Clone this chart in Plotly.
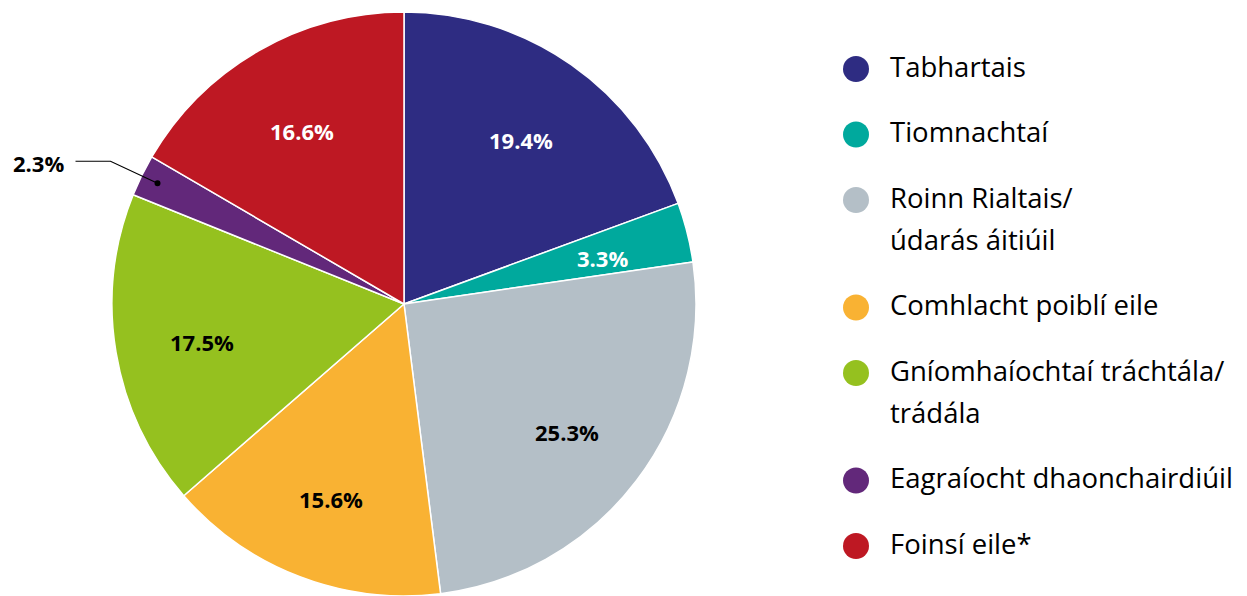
import math
import plotly.graph_objects as go

labels = ["Tabhartais", "Tiomnachtaí", "Roinn Rialtais/\núdarás áitiúil", "Comhlacht poiblí eile",
          "Gníomhaíochtaí tráchtála/\ntrádála", "Eagraíocht dhaonchairdiúil", "Foinsí eile*"]
values = [19.4, 3.3, 25.3, 15.6, 17.5, 2.3, 16.6]
colors = ["#2E2C82", "#00A99D", "#B4BFC7", "#F9B233", "#95C11F", "#62287A", "#BE1823"]
text_colors = ["white", "white", "black", "black", "black", "black", "white"]

W, H = 1247, 596
cx, cy, r = 404, 304, 292
FONT = "Open Sans"

fig = go.Figure()

fig.add_trace(go.Pie(
    labels=[l.replace("\n", " ") for l in labels],
    values=values,
    sort=False,
    direction="clockwise",
    rotation=0,
    marker=dict(colors=colors, line=dict(color="white", width=1.5)),
    textinfo="none",
    domain=dict(x=[(cx - r) / W, (cx + r) / W], y=[0, (H - (cy - r)) / H]),
    showlegend=False,
    hoverinfo="label+percent",
))

# middle angle of each slice (clockwise from 12 o'clock)
total = sum(values)
cum = 0
mids = []
for v in values:
    mids.append((cum + v / 2) / total * 2 * math.pi)
    cum += v

# percentage labels (annotations sit above the pie layer)
for i, v in enumerate(values):
    if i == 5:
        continue
    fig.add_annotation(
        x=cx + 0.7 * r * math.sin(mids[i]), y=cy - 0.7 * r * math.cos(mids[i]),
        xref="x", yref="y", text=f"{v:.1f}%", showarrow=False, yshift=-4,
        font=dict(family=FONT, size=22, color=text_colors[i], weight="bold"),
    )

# leader for the 2.3% slice
dx, dy = cx + 0.94 * r * math.sin(mids[5]), cy - 0.94 * r * math.cos(mids[5])
bx, by = dx - 47, dy - 22
ex = bx - 35
fig.add_shape(type="path", path=f"M {dx},{dy} L {bx},{by} L {ex},{by}",
              xref="x", yref="y", line=dict(color="black", width=1.2), layer="above")
fig.add_shape(type="circle", x0=dx - 3, x1=dx + 3, y0=dy - 3, y1=dy + 3,
              xref="x", yref="y", fillcolor="black", line=dict(width=0), layer="above")
fig.add_annotation(
    x=ex - 10, y=by, xref="x", yref="y", xanchor="right", text=f"{values[5]:.1f}%",
    showarrow=False, yshift=-2, font=dict(family=FONT, size=22, color="black", weight="bold"),
)

# legend on the right
leg_y = []
line_x, line_y, line_t = [], [], []
y = 69
for lab in labels:
    parts = lab.split("\n")
    leg_y.append(y)
    for k, p in enumerate(parts):
        line_x.append(890)
        line_y.append(y + 1 + 42 * k)
        line_t.append(p)
    y += 65.5 + 42 * (len(parts) - 1)

fig.add_trace(go.Scatter(
    x=[856] * len(labels), y=leg_y, mode="markers",
    marker=dict(color=colors, size=26), showlegend=False, hoverinfo="skip",
))
fig.add_trace(go.Scatter(
    x=line_x, y=line_y, mode="text", text=line_t, textposition="middle right",
    textfont=dict(family=FONT, size=27.5, color="black"),
    showlegend=False, hoverinfo="skip",
))

fig.update_layout(
    width=W, height=H,
    margin=dict(l=0, r=0, t=0, b=0),
    paper_bgcolor="white", plot_bgcolor="rgba(0,0,0,0)",
    xaxis=dict(range=[0, W], visible=False, fixedrange=True),
    yaxis=dict(range=[H, 0], visible=False, fixedrange=True),
)

fig.write_html("out.html", config=dict(displayModeBar=False),
               post_script="document.body.style.margin='0';")
